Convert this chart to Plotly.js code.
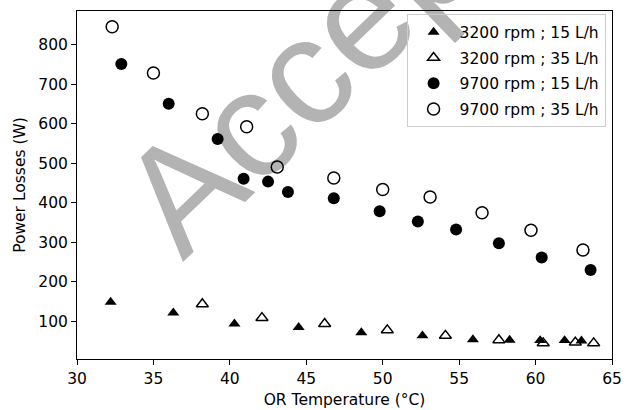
<!DOCTYPE html>
<html>
<head>
<meta charset="utf-8">
<script src="https://cdn.plot.ly/plotly-3.0.1.min.js"></script>
<style>html,body{margin:0;padding:0;background:#fff;}#chart{width:626px;height:410px;}</style>
</head>
<body>
<div id="chart"></div>
<script>
// Data
const seriesNames = ['3200 rpm ; 15 L/h', '3200 rpm ; 35 L/h', '9700 rpm ; 15 L/h', '9700 rpm ; 35 L/h'];

const tri15_x = [32.2, 36.3, 40.3, 44.5, 48.6, 52.6, 55.9, 58.3, 60.3, 61.9, 63.0];
const tri15_y = [149, 122, 94, 85, 72, 64, 54, 53, 52, 52, 51];

const tri35_x = [38.2, 42.1, 46.2, 50.3, 54.1, 57.6, 60.5, 62.6, 63.8];
const tri35_y = [144, 109, 94, 78, 64, 53, 45, 47, 45];

const cir15_x = [32.9, 36.0, 39.2, 40.9, 42.5, 43.8, 46.8, 49.8, 52.3, 54.8, 57.6, 60.4, 63.6];
const cir15_y = [752, 651, 562, 461, 454, 428, 412, 379, 353, 333, 298, 262, 230];

const cir35_x = [32.3, 35.0, 38.2, 41.1, 43.1, 46.8, 50.0, 53.1, 56.5, 59.7, 63.1];
const cir35_y = [846, 729, 626, 593, 491, 463, 434, 415, 375, 331, 281];

const xTicks = [30, 35, 40, 45, 50, 55, 60, 65];
const yTicks = [100, 200, 300, 400, 500, 600, 700, 800];

const FONT = 'DejaVu Sans, sans-serif';
const FS = 15.5;

const traces = [
  {x: tri15_x, y: tri15_y, name: seriesNames[0], legendgroup: 'g1', mode: 'markers', type: 'scatter',
   marker: {symbol: 'triangle-up', size: 10.5, color: '#000', line: {width: 0}}},
  {x: tri35_x, y: tri35_y, name: seriesNames[1], legendgroup: 'g2', mode: 'markers', type: 'scatter',
   marker: {symbol: 'triangle-up-open', size: 10.5, color: '#000', line: {width: 1.5, color: '#000'}}},
  {x: cir15_x, y: cir15_y, name: seriesNames[2], legendgroup: 'g3', mode: 'markers', type: 'scatter',
   marker: {symbol: 'circle', size: 12, color: '#000', line: {width: 0}}},
  {x: cir35_x, y: cir35_y, name: seriesNames[3], legendgroup: 'g4', mode: 'markers', type: 'scatter',
   marker: {symbol: 'circle-open', size: 12, color: '#000', line: {width: 1.5, color: '#000'}}}
];

const axisCommon = {
  showgrid: false, zeroline: false,
  showline: true, mirror: true, linecolor: '#000', linewidth: 1,
  ticks: 'outside', ticklen: 5, tickwidth: 1, tickcolor: '#000',
  tickfont: {family: FONT, size: FS, color: '#000'},
  tickmode: 'array'
};

const layout = {
  width: 626, height: 410,
  margin: {l: 77, r: 14, t: 11, b: 51},
  paper_bgcolor: '#fff', plot_bgcolor: 'rgba(0,0,0,0)',
  font: {family: FONT, size: FS, color: '#000'},
  xaxis: Object.assign({}, axisCommon, {
    range: [30, 65], tickvals: xTicks, ticktext: xTicks.map(String),
    title: {text: 'OR Temperature (°C)', font: {family: FONT, size: FS, color: '#000'}, standoff: 7}
  }),
  yaxis: Object.assign({}, axisCommon, {
    range: [4.9, 886], tickvals: yTicks, ticktext: yTicks.map(String),
    title: {text: 'Power Losses (W)', font: {family: FONT, size: FS, color: '#000'}, standoff: 8}
  }),
  legend: {
    x: 0.988, xanchor: 'right', y: 0.99, yanchor: 'top',
    bgcolor: 'rgba(255,255,255,0)', bordercolor: '#cccccc', borderwidth: 1,
    font: {family: FONT, size: FS, color: '#000'},
    itemwidth: 42, traceorder: 'grouped', tracegroupgap: 2.5
  },
  showlegend: true,
  annotations: [{
    text: 'Accepted', xref: 'paper', yref: 'paper', x: 0.555, y: 1.02,
    xanchor: 'center', yanchor: 'middle', showarrow: false, textangle: -44,
    font: {family: 'Liberation Sans, Arial, sans-serif', size: 152, color: '#b3b3b3'}
  }]
};

Plotly.newPlot('chart', traces, layout, {displayModeBar: false, staticPlot: true}).then(function(gd) {
  const ann = gd.querySelector('.infolayer .annotation');
  const cart = gd.querySelector('.cartesianlayer');
  if (ann && cart) cart.parentNode.insertBefore(ann, cart);
});
</script>
</body>
</html>
